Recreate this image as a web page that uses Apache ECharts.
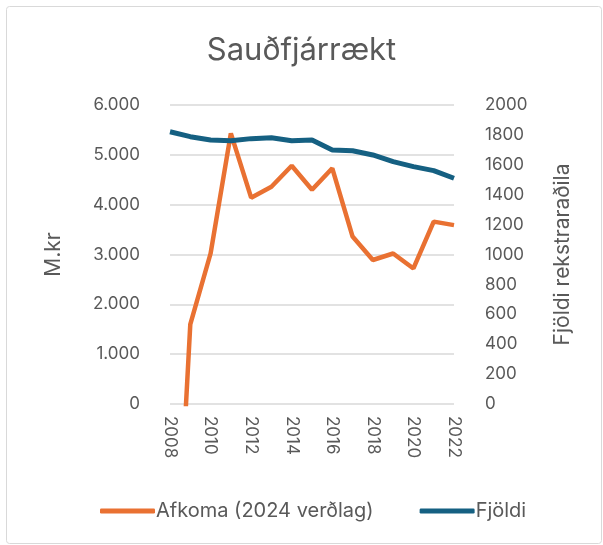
<!DOCTYPE html>
<html lang="is" style="height: 100%">
  <head>
    <meta charset="utf-8" />
    <style>
      body { margin: 0; background: #fff; }
      #container { width: 603px; height: 545px; }
    </style>
  </head>
  <body>
    <div id="container"></div>
    <script type="text/javascript" src="https://cdn.jsdelivr.net/npm/echarts@6/dist/echarts.min.js"></script>
    <script type="text/javascript">
      // data
      var years = ["2008", "2009", "2010", "2011", "2012", "2013", "2014", "2015",
        "2016", "2017", "2018", "2019", "2020", "2021", "2022"];
      var afkoma = [-6000, 1600, 3020, 5430, 4140, 4360, 4780, 4300, 4730, 3360, 2890, 3020, 2720, 3660, 3590];
      var fjoldi = [1821, 1788, 1766, 1761, 1775, 1781, 1761, 1766, 1699, 1694, 1666, 1621, 1588, 1561, 1510];

      var textColor = "#595959";
      var font = "Inter, 'Noto Sans', sans-serif";

      var dom = document.getElementById("container");
      var myChart = echarts.init(dom, null, { renderer: "canvas" });

      var option = {
        animation: false,
        textStyle: { fontFamily: font, color: textColor },
        graphic: [
          {
            type: "rect",
            shape: { x: 6.5, y: 6.5, width: 595, height: 537, r: 3 },
            style: { fill: "none", stroke: "#d9d9d9", lineWidth: 1 },
            silent: true,
          },
        ],
        title: {
          text: "Sauðfjárrækt",
          left: "center",
          top: 30,
          textStyle: { fontFamily: font, fontSize: 31, fontWeight: "normal", color: textColor },
        },
        legend: {
          bottom: 19,
          left: 95,
          itemWidth: 55,
          itemHeight: 5,
          itemGap: 46,
          icon: "roundRect",
          textStyle: { fontFamily: font, fontSize: 20, color: textColor, padding: [0, 0, 0, -4] },
          data: ["Afkoma (2024 verðlag)", "Fjöldi"],
        },
        grid: { left: 170, right: 149, top: 105, bottom: 141 },
        xAxis: {
          type: "category",
          data: years,
          boundaryGap: false,
          axisLine: { show: false },
          axisTick: { show: false },
          axisLabel: {
            interval: 1,
            rotate: -90,
            margin: 12,
            fontSize: 17,
            color: textColor,
            fontFamily: font,
          },
        },
        yAxis: [
          {
            type: "value",
            min: 0,
            max: 6000,
            interval: 1000,
            name: "M.kr",
            nameLocation: "middle",
            nameRotate: 90,
            nameGap: 106,
            nameTextStyle: { fontSize: 21, color: textColor, fontFamily: font },
            axisLine: { show: false },
            axisTick: { show: false },
            axisLabel: {
              margin: 30,
              fontSize: 17,
              color: textColor,
              fontFamily: font,
              formatter: function (v) {
                return String(v).replace(/\B(?=(\d{3})+(?!\d))/g, ".");
              },
            },
            splitLine: { lineStyle: { color: "#d9d9d9", width: 1.5 } },
          },
          {
            type: "value",
            min: 0,
            max: 2000,
            interval: 200,
            name: "Fjöldi rekstraraðila",
            nameLocation: "middle",
            nameRotate: 90,
            nameGap: 98,
            nameTextStyle: { fontSize: 21, color: textColor, fontFamily: font },
            axisLine: { show: false },
            axisTick: { show: false },
            axisLabel: {
              margin: 31,
              fontSize: 17,
              color: textColor,
              fontFamily: font,
              formatter: function (v) { return String(v); },
            },
            splitLine: { show: false },
          },
        ],
        series: [
          {
            name: "Afkoma (2024 verðlag)",
            type: "line",
            yAxisIndex: 0,
            data: afkoma,
            clip: true,
            symbol: "none",
            color: "#E97132",
            lineStyle: { width: 4.5, color: "#E97132" },
          },
          {
            name: "Fjöldi",
            type: "line",
            yAxisIndex: 1,
            data: fjoldi,
            symbol: "none",
            color: "#156082",
            lineStyle: { width: 5, color: "#156082" },
          },
        ],
      };

      myChart.setOption(option);
      window.addEventListener("resize", myChart.resize);
    </script>
  </body>
</html>
